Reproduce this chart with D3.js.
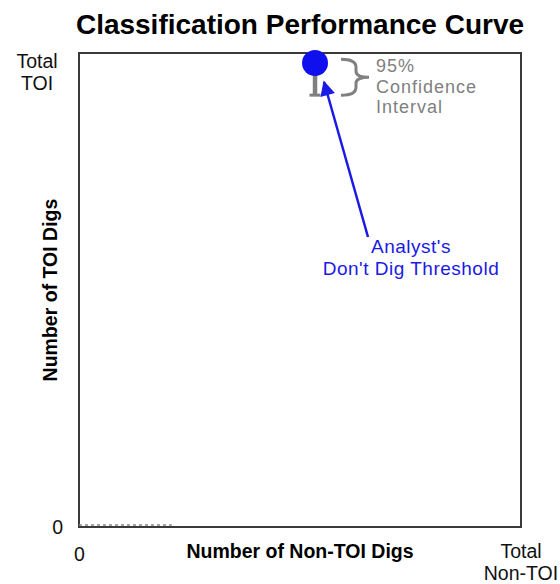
<!DOCTYPE html>
<html>
<head>
<meta charset="UTF-8">
<script src="https://cdn.jsdelivr.net/npm/d3@7"></script>
<title>Classification Performance Curve</title>
<style>
    body { margin: 0; background: #fff; }
    text { font-family: 'Liberation Sans', Arial, sans-serif; }
</style>
</head>
<body>
<div id="chart"></div>
<script>
// data (fractions of totals)
const curveX = [0, 0.05, 0.1, 0.15, 0.21];
const curveY = [0, 0, 0, 0, 0];
const thresholdPoint = { x: 0.534, y: 0.979 };
const ciLow = 0.909;
const ciHigh = 1.0;
const braceRange = [0.911, 0.987];
const xTickLabels = ["0", "Total|Non-TOI"];
const yTickLabels = ["0", "Total|TOI"];

const width = 560, height = 584;
const margin = { top: 53, right: 39, bottom: 57, left: 79 };

const svg = d3.select("#chart").append("svg")
    .attr("width", width)
    .attr("height", height);

const x = d3.scaleLinear().domain([0, 1]).range([margin.left, width - margin.right]);
const y = d3.scaleLinear().domain([0, 1]).range([height - margin.bottom, margin.top]);

// title
svg.append("text")
    .attr("x", (x(0) + x(1)) / 2)
    .attr("y", 34)
    .attr("text-anchor", "middle")
    .style("font-size", "28px")
    .style("font-weight", "bold")
    .text("Classification Performance Curve");

// frame
svg.append("rect")
    .attr("x", x(0)).attr("y", y(1))
    .attr("width", x(1) - x(0)).attr("height", y(0) - y(1))
    .attr("fill", "none")
    .attr("stroke", "#3a3a3a")
    .attr("stroke-width", 2);

// zero ticks through d3 axes
const xAxis = svg.append("g")
    .attr("transform", `translate(0,${y(0)})`)
    .call(d3.axisBottom(x).tickValues([0]).tickSize(0).tickPadding(20).tickFormat(() => xTickLabels[0]));
const yAxis = svg.append("g")
    .attr("transform", `translate(${x(0)},0)`)
    .call(d3.axisLeft(y).tickValues([0]).tickSize(0).tickPadding(16).tickFormat(() => yTickLabels[0]));
[xAxis, yAxis].forEach(g => {
    g.select(".domain").remove();
    g.selectAll("text").style("font-size", "19.5px").attr("fill", "#111").style("font-family", "'Liberation Sans', Arial, sans-serif");
});

// "Total" labels
svg.append("text")
    .attr("x", x(1)).attr("y", 558)
    .attr("text-anchor", "middle")
    .style("font-size", "19.5px").attr("fill", "#111")
    .selectAll("tspan").data(xTickLabels[1].split("|")).join("tspan")
    .attr("x", x(1)).attr("dy", (d, i) => i ? 22 : 0)
    .text(d => d);

svg.append("text")
    .attr("x", 37).attr("y", 68)
    .attr("text-anchor", "middle")
    .style("font-size", "19.5px").attr("fill", "#111")
    .selectAll("tspan").data(yTickLabels[1].split("|")).join("tspan")
    .attr("x", 37).attr("dy", (d, i) => i ? 22 : 0)
    .text(d => d);

// axis titles
svg.append("text")
    .attr("x", (x(0) + x(1)) / 2).attr("y", 558)
    .attr("text-anchor", "middle")
    .style("font-size", "19.5px").style("font-weight", "bold")
    .text("Number of Non-TOI Digs");

svg.append("text")
    .attr("transform", `translate(57,${(y(0) + y(1)) / 2}) rotate(-90)`)
    .attr("text-anchor", "middle")
    .style("font-size", "19.5px").style("font-weight", "bold")
    .text("Number of TOI Digs");

// start of the curve (dotted)
const line = d3.line().x((d, i) => x(curveX[i])).y((d, i) => y(curveY[i]) - 2);
svg.append("path")
    .datum(curveX)
    .attr("d", line)
    .attr("fill", "none")
    .attr("stroke", "#888")
    .attr("stroke-width", 1.5)
    .attr("stroke-dasharray", "3,3");

// confidence interval error bar
const px = x(thresholdPoint.x);
svg.append("line")
    .attr("x1", px).attr("x2", px)
    .attr("y1", y(ciHigh)).attr("y2", y(ciLow))
    .attr("stroke", "#808080").attr("stroke-width", 4.5);
svg.append("line")
    .attr("x1", px - 5.5).attr("x2", px + 5.5)
    .attr("y1", y(ciLow) - 1).attr("y2", y(ciLow) - 1)
    .attr("stroke", "#808080").attr("stroke-width", 3);

// threshold point
svg.append("circle")
    .attr("cx", px).attr("cy", y(thresholdPoint.y))
    .attr("r", 13)
    .attr("fill", "#1010ee");

// brace
const bTop = y(braceRange[1]), bBot = y(braceRange[0]), bMid = (bTop + bBot) / 2;
const bx = 341, bw = 15;
svg.append("path")
    .attr("d", `M${bx},${bTop} Q${bx + bw},${bTop} ${bx + bw},${bTop + 8}
                L${bx + bw},${bMid - 6} Q${bx + bw},${bMid} ${bx + bw + 13},${bMid}
                Q${bx + bw},${bMid} ${bx + bw},${bMid + 6}
                L${bx + bw},${bBot - 8} Q${bx + bw},${bBot} ${bx},${bBot}`)
    .attr("fill", "none")
    .attr("stroke", "#808080")
    .attr("stroke-width", 3);

svg.append("text")
    .attr("x", 376).attr("y", 72)
    .style("font-size", "18px").style("letter-spacing", "1px")
    .attr("fill", "#808080")
    .selectAll("tspan").data(["95%", "Confidence", "Interval"]).join("tspan")
    .attr("x", 376).attr("dy", (d, i) => i ? 20.5 : 0)
    .text(d => d);

// arrow annotation
svg.append("defs").append("marker")
    .attr("id", "arrow")
    .attr("viewBox", "0 0 10 10")
    .attr("refX", 9).attr("refY", 5)
    .attr("markerWidth", 7.5).attr("markerHeight", 6)
    .attr("markerUnits", "strokeWidth")
    .attr("orient", "auto")
    .append("path")
    .attr("d", "M0,0 L10,5 L0,10 z")
    .attr("fill", "#1a1ae6");

svg.append("line")
    .attr("x1", 368).attr("y1", 237)
    .attr("x2", 324).attr("y2", 82)
    .attr("stroke", "#1a1ae6")
    .attr("stroke-width", 2.5)
    .attr("marker-end", "url(#arrow)");

svg.append("text")
    .attr("x", 411).attr("y", 253)
    .attr("text-anchor", "middle")
    .style("font-size", "19px").style("letter-spacing", "0.5px")
    .attr("fill", "#1a1ae6")
    .selectAll("tspan").data(["Analyst's", "Don't Dig Threshold"]).join("tspan")
    .attr("x", 411).attr("dy", (d, i) => i ? 22 : 0)
    .text(d => d);
</script>
</body>
</html>
